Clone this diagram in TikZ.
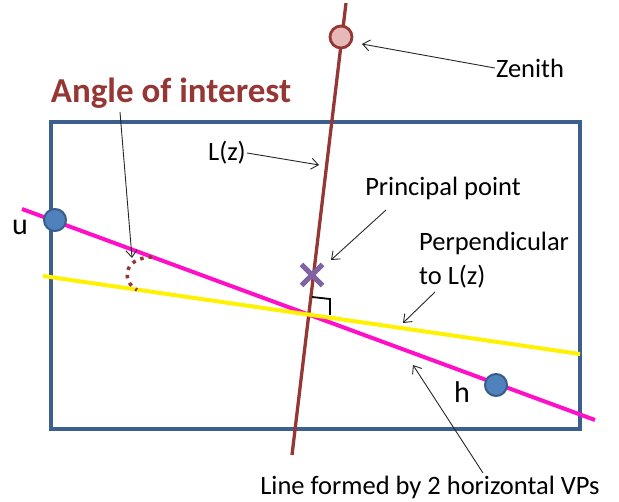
\documentclass[tikz,border=0pt]{standalone}
\usepackage{fontspec}
\setmainfont{Carlito}
\usetikzlibrary{arrows.meta}
\definecolor{frameblue}{HTML}{3C5F8E}
\definecolor{lzbrown}{HTML}{953735}
\definecolor{zenfill}{HTML}{E6B9B8}
\definecolor{vpfill}{HTML}{4F81BD}
\definecolor{vpedge}{HTML}{385D8A}
\definecolor{hmag}{HTML}{FF10C8}
\definecolor{ppurple}{HTML}{8064A2}
\tikzset{
  lbl/.style={font=\fontsize{26.5}{34}\selectfont, text=black, inner sep=1pt},
  callout/.style={draw=black!85, line width=0.9pt, -{Straight Barb[length=7pt,width=11pt]}},
  vp/.style={circle, fill=vpfill, draw=vpedge, line width=2pt, minimum size=22pt, inner sep=0pt},
}
\begin{document}
\begin{tikzpicture}[x=1pt,y=-1pt]
\useasboundingbox (0,0) rectangle (619,502);
% frame
\draw[frameblue, line width=3.3pt] (51,122) rectangle (580,429);
% lines
\coordinate (lzt) at (346,3);
\coordinate (lzb) at (292,455);
\draw[lzbrown, line width=3.3pt] (lzt) -- (lzb);
\coordinate (hl) at (22,209);
\coordinate (hr) at (595,420);
\draw[hmag, line width=4pt] (hl) -- (hr);
\coordinate (yl) at (43,276);
\coordinate (yr) at (580,354);
\draw[yellow, line width=4pt] (yl) -- (yr);
% right angle mark
\draw[black, line width=1.8pt] (312,297) -- (330,299) -- (330,315);
% dotted angle arc
\draw[lzbrown, line width=3.5pt, dash pattern=on 3.5pt off 5pt] (152,257) .. controls (122,258) and (122,282) .. (137,290);
% points
\node[circle, fill=zenfill, draw=lzbrown, line width=2.8pt, minimum size=22pt, inner sep=0pt] (zen) at (341,37) {};
\node[vp] (u) at (55,220) {};
\node[vp] (h) at (496,385) {};
\coordinate (pp) at (312,275);
\draw[ppurple, line width=5pt] ([shift={(-10.5,-10.5)}]pp) -- ([shift={(10.5,10.5)}]pp);
\draw[ppurple, line width=5pt] ([shift={(-10.5,10.5)}]pp) -- ([shift={(10.5,-10.5)}]pp);
% labels
\node[lbl] (zenl) at (530,68) {Zenith};
\node[lbl, anchor=east] (lzl) at (247,153) {L(z)};
\node[lbl] (ppl) at (443,188) {Principal point};
\node[lbl, anchor=west, align=left] (perp) at (418,260) {Perpendicular\\to L(z)};
\node[lbl, font=\fontsize{30}{32}\selectfont] (ul) at (20,227) {u};
\node[lbl, font=\fontsize{30}{32}\selectfont] (hlab) at (462,392) {h};
\node[lbl] (linel) at (430,487) {Line formed by 2 horizontal VPs};
\node[text=lzbrown, font=\fontsize{35}{40}\selectfont\bfseries, inner sep=1pt] (ang) at (171,93) {Angle of interest};
% callouts
\coordinate (zenend) at (362,44);
\draw[callout] (zenl.west) -- (zenend);
\coordinate (lzend) at (319,165);
\draw[callout] (lzl.east) -- (lzend);
\coordinate (ppend) at (331,260);
\coordinate (ppstart) at (386,210);
\draw[callout] (ppstart) -- (ppend);
\coordinate (perpstart) at (435,292);
\coordinate (perpend) at (403,323);
\draw[callout] (perpstart) -- (perpend);
\coordinate (linestart) at (483,473);
\coordinate (lineend) at (413,365);
\draw[callout] (linestart) -- (lineend);
\coordinate (angstart) at (120,112);
\coordinate (angend) at (132,258);
\draw[callout] (angstart) -- (angend);
\end{tikzpicture}
\end{document}
